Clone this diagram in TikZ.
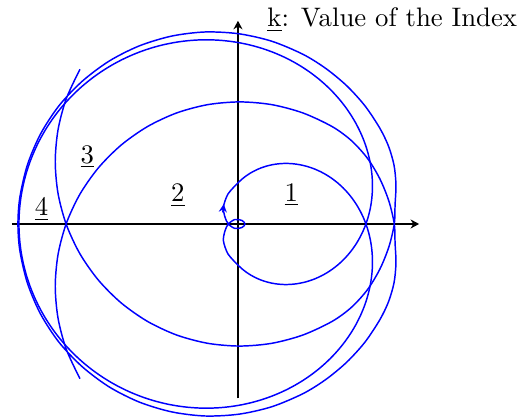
\documentclass[tikz,border=0pt]{standalone}
\usepackage{amsmath}
\usetikzlibrary{arrows.meta}

\begin{document}
\begin{tikzpicture}[
    curve/.style={blue, line width=0.55pt},
    axis/.style={-{Stealth[length=3.2pt, width=3.4pt]}, line width=0.4pt},
    index/.style={anchor=base, inner sep=0pt}
]
\useasboundingbox (-3.127,-2.562) rectangle (3.745,2.943);

% axes
\draw[axis] (-2.97,0) -- (2.38,0);
\draw[axis] (0,-2.29) -- (0,2.67);

% closed branch (inner loop, outer loop, kink at the origin)
\draw[curve] plot[domain=197.2:522.8, samples=160, smooth]
    ({0.039-1.327*cos(\x)-1.590*cos(2*\x)}, {1.159*sin(\x)+1.553*sin(2*\x)})
  -- plot[smooth] coordinates {(-0.005,-0.535) (-0.131,-0.394) (-0.191,-0.223) (-0.171,-0.092)
    (-0.127,0) (-0.039,0.059) (0.053,0.046) (0.092,0) (0.053,-0.046) (-0.039,-0.059)
    (-0.127,0) (-0.171,0.092) (-0.191,0.223) (-0.131,0.394) (-0.005,0.535)};
\draw[curve, -{Stealth[length=3pt, width=3pt]}] (-0.200,0.151) -- (-0.187,0.262);

% open branch
\draw[curve] plot[smooth] coordinates {
    (-2.076,2.033) (-2.255,1.649) (-2.364,1.240) (-2.401,0.820) (-2.364,0.399)
    (-2.255,-0.009) (-2.076,-0.393) (-1.833,-0.739) (-1.535,-1.037) (-1.189,-1.280)
    (-0.806,-1.459) (-0.397,-1.568) (0.024,-1.604) (0.444,-1.568) (0.853,-1.459)
    (1.237,-1.280) (1.491,-1.095) (1.703,-0.861) (1.866,-0.590) (1.984,-0.297)
    (2.054,0) (2.064,0.250) (2.076,0.509) (2.051,0.770) (1.978,1.022)
    (1.863,1.260) (1.668,1.553) (1.430,1.815) (1.156,2.042) (0.855,2.229)
    (0.445,2.401) (0.013,2.499) (-0.431,2.523) (-0.871,2.469) (-1.297,2.340)
    (-1.692,2.141) (-2.047,1.875) (-2.351,1.555) (-2.593,1.185) (-2.766,0.779)
    (-2.866,0.351) (-2.891,0)
    (-2.866,-0.351) (-2.766,-0.779) (-2.593,-1.185) (-2.351,-1.555) (-2.047,-1.875)
    (-1.692,-2.141) (-1.297,-2.340) (-0.871,-2.469) (-0.431,-2.523) (0.013,-2.499)
    (0.445,-2.401) (0.855,-2.229) (1.156,-2.042) (1.430,-1.815) (1.668,-1.553)
    (1.863,-1.260) (1.978,-1.022) (2.051,-0.770) (2.076,-0.509) (2.064,-0.250)
    (2.054,0) (1.984,0.297) (1.866,0.590) (1.703,0.861) (1.491,1.095)
    (1.237,1.280) (0.853,1.459) (0.444,1.568) (0.024,1.604) (-0.397,1.568)
    (-0.806,1.459) (-1.189,1.280) (-1.535,1.037) (-1.833,0.739) (-2.076,0.393)
    (-2.255,0.009) (-2.364,-0.399) (-2.401,-0.820) (-2.364,-1.240) (-2.255,-1.649)
    (-2.076,-2.033)};

% index values
\node[index] (one) at (0.70,0.30) {$\underline{1}$};
\node[index] (two) at (-0.79,0.295) {$\underline{2}$};
\node[index] (three) at (-1.98,0.80) {$\underline{3}$};
\node[index] (four) at (-2.58,0.105) {$\underline{4}$};
\node[anchor=base west, inner sep=0pt] (legend) at (0.38,2.59) {\underline{k}: Value of the Index};

\end{tikzpicture}
\end{document}
